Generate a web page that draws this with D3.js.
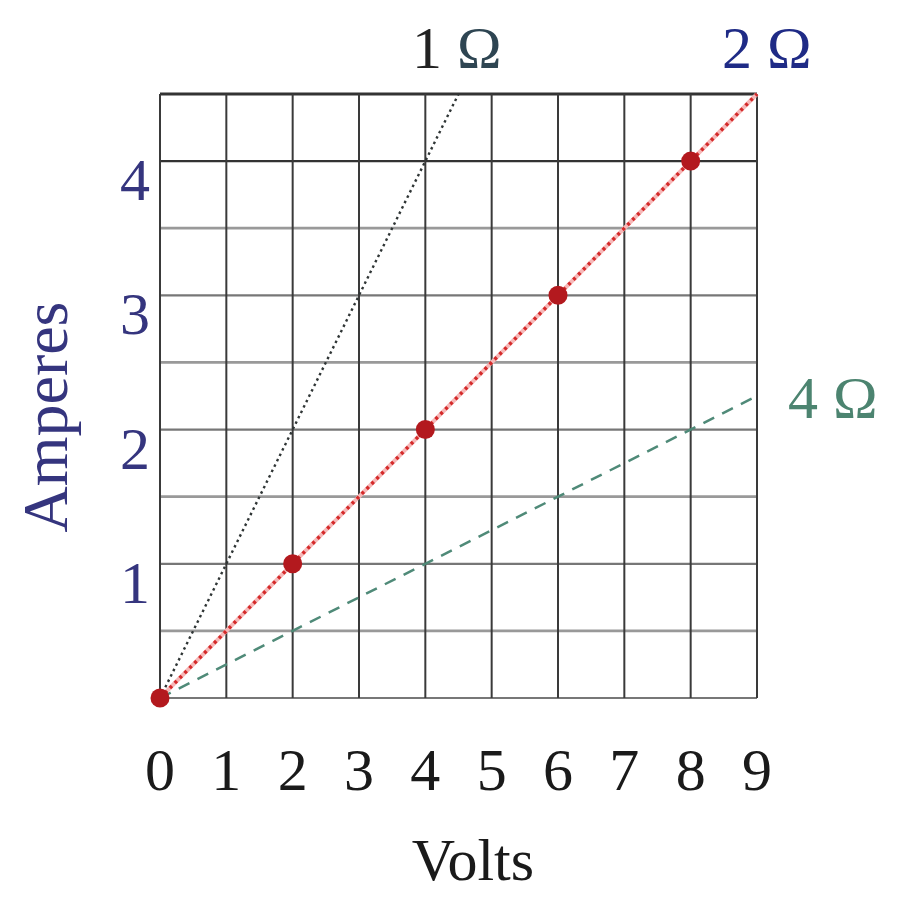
<!DOCTYPE html>
<html>
<head>
<meta charset="utf-8">
<script src="https://cdn.jsdelivr.net/npm/d3@7"></script>
<style>
  html, body { margin: 0; padding: 0; background: #fff; }
  svg { display: block; }
  text { font-family: "Liberation Serif", "DejaVu Serif", serif; }
</style>
</head>
<body>
<svg id="chart" width="897" height="897"></svg>
<script>
// Axis ticks
const voltTicks = [0, 1, 2, 3, 4, 5, 6, 7, 8, 9];
const ampTicks = [1, 2, 3, 4];
const ampGrid = [0, 0.5, 1, 1.5, 2, 2.5, 3, 3.5, 4, 4.5];

// Resistor lines (volts, amps endpoints)
const oneOhmLine = [[0, 0], [4.5, 4.5]];
const twoOhmLine = [[0, 0], [9, 4.5]];
const fourOhmLine = [[0, 0], [9, 2.25]];

// Measured points on the 2 Ω resistor
const measuredVolts = [0, 2, 4, 6, 8];
const measuredAmps = [0, 1, 2, 3, 4];

const svg = d3.select("#chart");
const x = d3.scaleLinear().domain([0, 9]).range([160, 757]);
const y = d3.scaleLinear().domain([0, 4.5]).range([698, 94]);

// Horizontal grid lines
svg.append("g").selectAll("line").data(ampGrid).join("line")
  .attr("x1", x(0)).attr("x2", x(9))
  .attr("y1", d => y(d)).attr("y2", d => y(d))
  .attr("stroke", d => (d === 4 || d === 4.5) ? "#333" : (Number.isInteger(d) ? "#777" : "#999"))
  .attr("stroke-width", d => Number.isInteger(d) ? 2.2 : 2.8);

// Vertical grid lines
svg.append("g").selectAll("line").data(voltTicks).join("line")
  .attr("x1", d => x(d)).attr("x2", d => x(d))
  .attr("y1", y(0)).attr("y2", y(4.5))
  .attr("stroke", "#3a3a3a")
  .attr("stroke-width", 2);

const line = d3.line().x(d => x(d[0])).y(d => y(d[1]));

// 4 Ω: dashed green
svg.append("path").datum(fourOhmLine).attr("d", line)
  .attr("fill", "none").attr("stroke", "#4f8a78")
  .attr("stroke-width", 2.5).attr("stroke-dasharray", "12,9");

// 1 Ω: dotted dark gray
svg.append("path").datum(oneOhmLine).attr("d", line)
  .attr("fill", "none").attr("stroke", "#2f3535")
  .attr("stroke-width", 2.4).attr("stroke-dasharray", "2.5,3.5");

// 2 Ω: red dotted over pale pink
svg.append("path").datum(twoOhmLine).attr("d", line)
  .attr("fill", "none").attr("stroke", "#f6b8b8")
  .attr("stroke-width", 4);
svg.append("path").datum(twoOhmLine).attr("d", line)
  .attr("fill", "none").attr("stroke", "#d42a2a")
  .attr("stroke-width", 3.5).attr("stroke-dasharray", "3,4");

// Measured points
svg.append("g").selectAll("circle").data(d3.zip(measuredVolts, measuredAmps)).join("circle")
  .attr("cx", d => x(d[0])).attr("cy", d => y(d[1]))
  .attr("r", 9.5).attr("fill", "#b3191e");

// X tick labels
svg.append("g").selectAll("text").data(voltTicks).join("text")
  .attr("x", d => x(d)).attr("y", 790)
  .attr("text-anchor", "middle")
  .attr("font-size", 60).attr("fill", "#1a1a1a")
  .text(d => d);

// Y tick labels
svg.append("g").selectAll("text").data(ampTicks).join("text")
  .attr("x", 135).attr("y", d => y(d) + 39)
  .attr("text-anchor", "middle")
  .attr("font-size", 60).attr("fill", "#35357e")
  .text(d => d);

// Axis titles
svg.append("text").attr("x", 473).attr("y", 880)
  .attr("text-anchor", "middle").attr("font-size", 60).attr("fill", "#1a1a1a")
  .text("Volts");
svg.append("text")
  .attr("transform", "translate(67,417) rotate(-90)")
  .attr("text-anchor", "middle").attr("font-size", 64).attr("fill", "#35357e")
  .text("Amperes");

// Resistor labels
const r1 = svg.append("text").attr("x", 412).attr("y", 68).attr("font-size", 60);
r1.append("tspan").attr("fill", "#222").text("1 ");
r1.append("tspan").attr("fill", "#2e4552").text("Ω");

svg.append("text").attr("x", 722).attr("y", 68).attr("font-size", 60)
  .attr("fill", "#1f2b86").text("2 Ω");

svg.append("text").attr("x", 788).attr("y", 418).attr("font-size", 60)
  .attr("fill", "#4c8470").text("4 Ω");
</script>
</body>
</html>
